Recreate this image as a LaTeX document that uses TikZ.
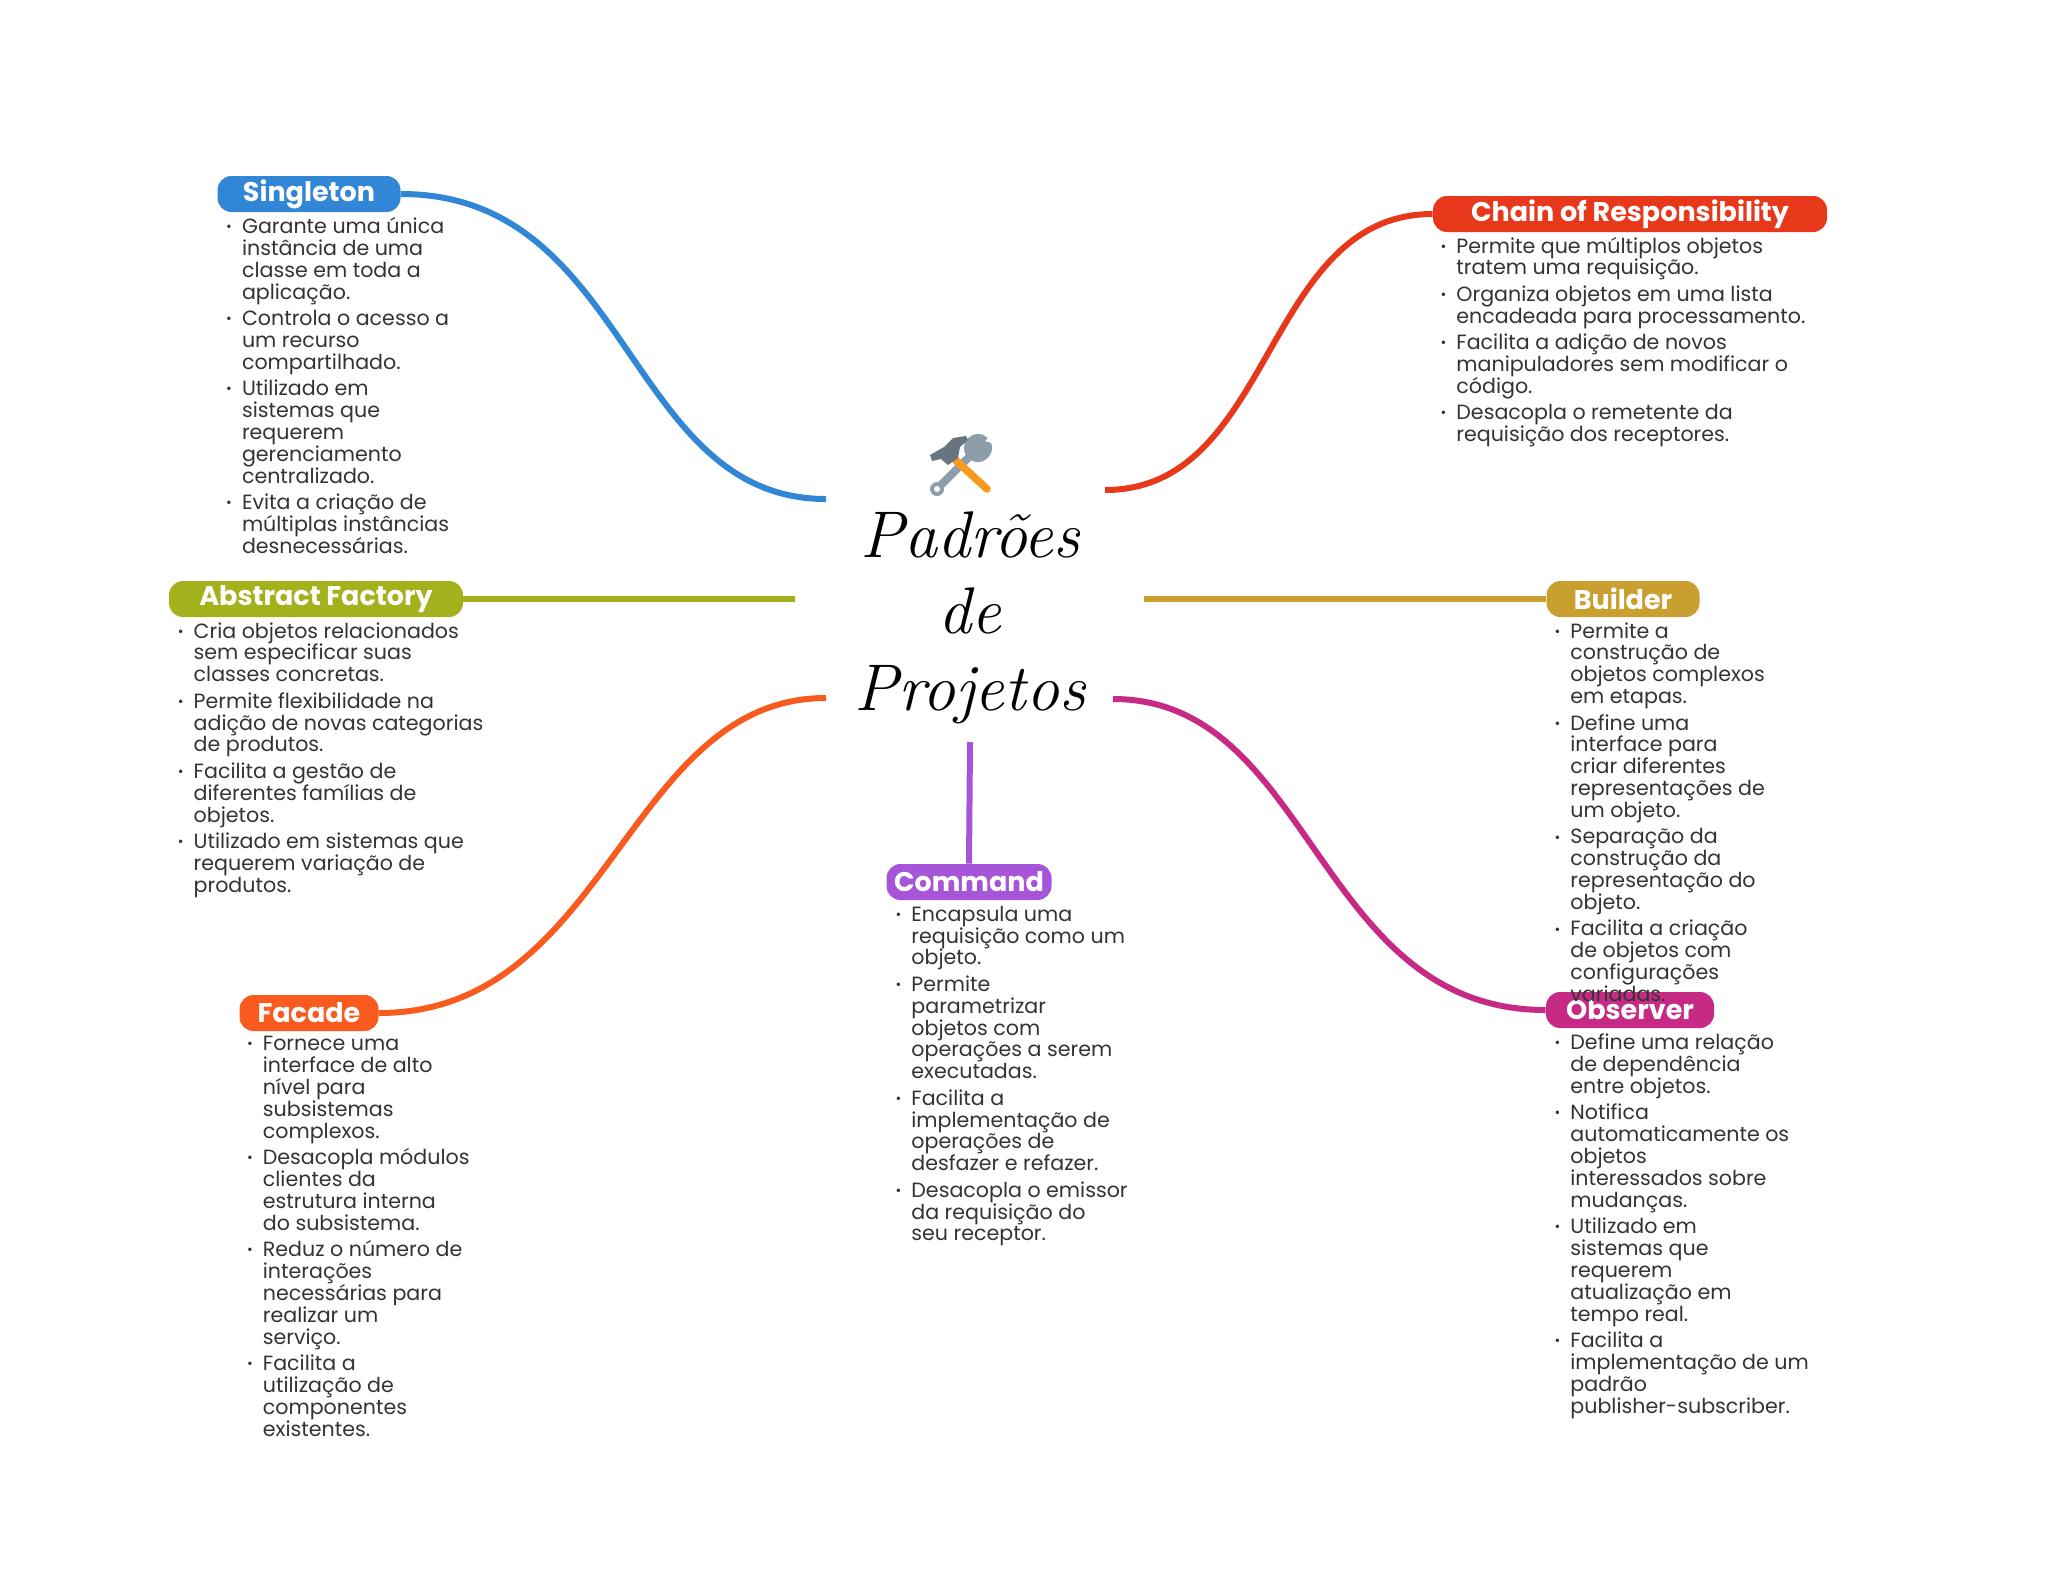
\documentclass[tikz,border=0pt]{standalone}
\usepackage{fontspec}
\setmainfont{Poppins}
\newfontfamily\titlefont{Latin Modern Roman}
\newcommand{\itm}{\leavevmode\llap{\fontsize{7}{7}\selectfont\raisebox{0.9pt}{•}\hspace{5pt}}}
\definecolor{csing}{HTML}{3186D6}
\definecolor{cchain}{HTML}{E8381B}
\definecolor{cfact}{HTML}{A3B11D}
\definecolor{cbuild}{HTML}{C9A02F}
\definecolor{cfacade}{HTML}{F95A1E}
\definecolor{ccmd}{HTML}{A655D8}
\definecolor{cobs}{HTML}{C62A85}
\definecolor{ctext}{HTML}{333333}
\definecolor{iconlight}{HTML}{8C9EA9}
\definecolor{icondark}{HTML}{66757F}
\definecolor{iconorange}{HTML}{F79A1E}
\tikzset{
  pill/.style={fill=#1,rounded corners=7pt,text=white,inner sep=0pt,minimum height=18pt,
    font=\fontsize{13.5}{14}\selectfont\bfseries},
  link/.style={draw=#1,line width=3pt},
  listing/.style={anchor=north west,inner sep=0pt,align=left,text=ctext,
    font=\fontsize{10.3}{10.95}\selectfont},
  titleline/.style={anchor=base,inner sep=0pt,text=black,
    font=\titlefont\itshape\fontsize{33}{36}\selectfont}
}
\begin{document}
\begin{tikzpicture}[x=0.5pt,y=-0.5pt]
\useasboundingbox (0,0) rectangle (2048,1569);
% free ends
\coordinate (eSing) at (826,499);
\coordinate (eChain) at (1105,490);
\coordinate (eFact) at (795,599);
\coordinate (eBuild) at (1144,599);
\coordinate (eFacade) at (826,698);
\coordinate (eObs) at (1113,699);
\coordinate (eCmd) at (970,742);
% pills
\node[pill=csing,minimum width=91.5pt] (sing) at (309,194) {Singleton};
\node[pill=cchain,minimum width=197pt] (chain) at (1630,214) {Chain of Responsibility};
\node[pill=cfact,minimum width=147pt] (fact) at (316,599) {Abstract Factory};
\node[pill=cbuild,minimum width=76.5pt] (build) at (1623,599) {Builder};
\node[pill=cfacade,minimum width=69.5pt] (facade) at (309,1013) {Facade};
\node[pill=ccmd,minimum width=82.5pt] (cmd) at (969,882) {Command};
\node[pill=cobs,minimum width=84pt] (obs) at (1630,1010) {Observer};
% connectors
\begin{scope}[on background layer/.style={}]
\draw[link=csing] (sing.east) .. controls +(230,0) and +(-200,0) .. (eSing);
\draw[link=cchain] (chain.west) .. controls +(-170,0) and +(170,0) .. (eChain);
\draw[link=cfact] (fact.east) -- (eFact);
\draw[link=cbuild] (build.west) -- (eBuild);
\draw[link=cfacade] (facade.east) .. controls +(230,0) and +(-200,0) .. (eFacade);
\draw[link=cobs] (obs.west) .. controls +(-230,0) and +(200,0) .. (eObs);
\draw[link=ccmd] (cmd.north) -- (eCmd);
\end{scope}
% title
\node[titleline] (t1) at (970,557) {Padrões};
\node[titleline] (t2) at (970,633) {de};
\node[titleline] (t3) at (970,710) {Projetos};
% icon
\draw[iconlight,line width=4pt,line cap=round] (940,486) -- (978,448);
\fill[iconlight] (978,448) circle (14);
\fill[white] (985,441) -- (995,431) -- (1000,445) -- cycle;
\fill[iconlight] (937,489) circle (7);
\fill[white] (937,489) circle (3);
\draw[iconorange,line width=3.8pt,line cap=round] (950,455) -- (987,489);
\fill[icondark] (930,455) -- (944,447) -- (953,438) -- (966,436) -- (968,440) -- (960,447) -- (958,458) -- (948,465) -- (941,459) -- (932,461) -- cycle;
% lists
\node[listing] (lSing) at (241.6,217) {\itm Garante uma única\\instância de uma\\classe em toda a\\aplicação.\\[2.2pt]
\itm Controla o acesso a\\um recurso\\compartilhado.\\[2.2pt]
\itm Utilizado em\\sistemas que\\requerem\\gerenciamento\\centralizado.\\[2.2pt]
\itm Evita a criação de\\múltiplas instâncias\\desnecessárias.};
\node[listing] (lFact) at (193.3,622) {\itm Cria objetos relacionados\\sem especificar suas\\classes concretas.\\[2.2pt]
\itm Permite flexibilidade na\\adição de novas categorias\\de produtos.\\[2.2pt]
\itm Facilita a gestão de\\diferentes famílias de\\objetos.\\[2.2pt]
\itm Utilizado em sistemas que\\requerem variação de\\produtos.};
\node[listing] (lFacade) at (262.5,1036) {\itm Fornece uma\\interface de alto\\nível para\\subsistemas\\complexos.\\[2.2pt]
\itm Desacopla módulos\\clientes da\\estrutura interna\\do subsistema.\\[2.2pt]
\itm Reduz o número de\\interações\\necessárias para\\realizar um\\serviço.\\[2.2pt]
\itm Facilita a\\utilização de\\componentes\\existentes.};
\node[listing] (lCmd) at (911,905.5) {\itm Encapsula uma\\requisição como um\\objeto.\\[2.2pt]
\itm Permite\\parametrizar\\objetos com\\operações a serem\\executadas.\\[2.2pt]
\itm Facilita a\\implementação de\\operações de\\desfazer e refazer.\\[2.2pt]
\itm Desacopla o emissor\\da requisição do\\seu receptor.};
\node[listing] (lChain) at (1456,236.5) {\itm Permite que múltiplos objetos\\tratem uma requisição.\\[2.2pt]
\itm Organiza objetos em uma lista\\encadeada para processamento.\\[2.2pt]
\itm Facilita a adição de novos\\manipuladores sem modificar o\\código.\\[2.2pt]
\itm Desacopla o remetente da\\requisição dos receptores.};
\node[listing] (lBuild) at (1570,622) {\itm Permite a\\construção de\\objetos complexos\\em etapas.\\[2.2pt]
\itm Define uma\\interface para\\criar diferentes\\representações de\\um objeto.\\[2.2pt]
\itm Separação da\\construção da\\representação do\\objeto.\\[2.2pt]
\itm Facilita a criação\\de objetos com\\configurações\\variadas.};
\node[listing] (lObs) at (1570,1033.5) {\itm Define uma relação\\de dependência\\entre objetos.\\[2.2pt]
\itm Notifica\\automaticamente os\\objetos\\interessados sobre\\mudanças.\\[2.2pt]
\itm Utilizado em\\sistemas que\\requerem\\atualização em\\tempo real.\\[2.2pt]
\itm Facilita a\\implementação de um\\padrão\\publisher-subscriber.};
\end{tikzpicture}
\end{document}
